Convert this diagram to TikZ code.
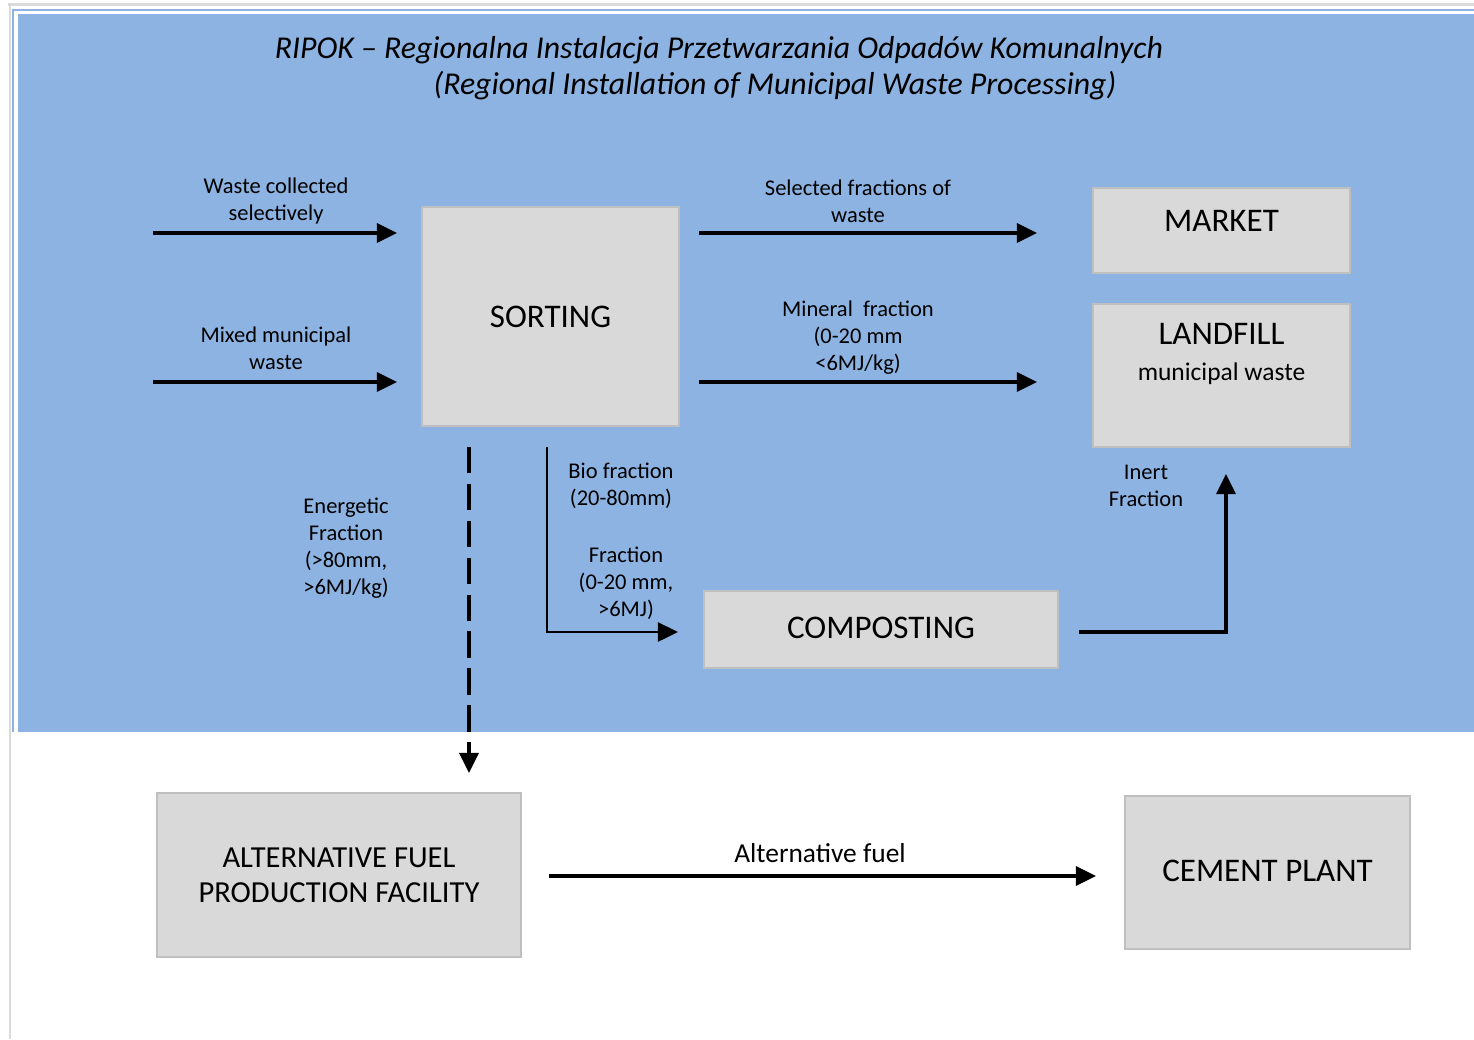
\documentclass[tikz,border=0pt]{standalone}
\usepackage{fontspec}
\setmainfont{Carlito}
\usetikzlibrary{positioning}
\usetikzlibrary{arrows.meta}
\definecolor{ripokblue}{HTML}{8DB3E2}
\definecolor{boxfill}{HTML}{D9D9D9}
\definecolor{boxline}{HTML}{BFBFBF}
\definecolor{pagegray}{HTML}{DADADA}

\tikzset{
  flowbox/.style={draw=boxline, line width=1.2pt, fill=boxfill, inner sep=0pt},
  flowarrow/.style={line width=1.9pt, -{Triangle[length=11.4pt,width=10.8pt]}},
  flowlabel/.style={align=center, inner sep=0pt, font=\fontsize{12.8}{15.4}\selectfont},
  boxtext/.style={align=center, inner sep=0pt, font=\fontsize{18.8}{20}\selectfont},
}

\begin{document}
\begin{tikzpicture}[x=0.02cm, y=-0.02cm]

\useasboundingbox (0,0) rectangle (1474,1039);

% page frame and blue area
\draw[pagegray, line width=1.7pt] (8,4)--(1474,4);
\draw[pagegray, line width=1.7pt] (10,4)--(10,1039);
\draw[ripokblue, line width=0.6pt] (13,732)--(13,10)--(1474,10);
\fill[ripokblue] (18,14) rectangle (1474,732);

\node[inner sep=0pt, font=\fontsize{18.1}{20}\selectfont\itshape] (title) at (719,50)
  {RIPOK – Regionalna Instalacja Przetwarzania Odpadów Komunalnych};
\node[inner sep=0pt, font=\fontsize{18.1}{20}\selectfont\itshape] (subtitle) at (775,86)
  {(Regional Installation of Municipal Waste Processing)};

% boxes
\node[flowbox, minimum width=5.14cm, minimum height=4.38cm, boxtext] (sorting) at (550.5,316.5) {SORTING};
\node[flowbox, minimum width=5.14cm, minimum height=1.7cm,
  label={[boxtext, anchor=center, yshift=-0.68cm]north:MARKET}] (market) at (1221.5,230.5) {};
\node[flowbox, minimum width=5.14cm, minimum height=2.86cm,
  label={[boxtext, anchor=center, yshift=-1.02cm]north:LANDFILL\\{\fontsize{14.5}{20}\selectfont municipal waste}}] (landfill) at (1221.5,375.5) {};
\node[flowbox, minimum width=7.08cm, minimum height=1.54cm, boxtext] (composting) at (881,629.5) {\raisebox{2pt}{COMPOSTING}};
\node[flowbox, minimum width=7.28cm, minimum height=3.28cm, boxtext, font=\fontsize{17.4}{20}\selectfont] (altfuel) at (339,875) {ALTERNATIVE FUEL\\PRODUCTION FACILITY};
\node[flowbox, minimum width=5.7cm, minimum height=3.06cm, boxtext] (cement) at (1267.5,872.5) {\raisebox{2pt}{CEMENT PLANT}};

% free arrow ends
\coordinate (coll-a) at (153,233);
\coordinate (coll-b) at (397,233);
\coordinate (mix-a) at (153,382);
\coordinate (mix-b) at (397,382);
\coordinate (sel-a) at (699,233);
\coordinate (sel-b) at (1037,233);
\coordinate (min-a) at (699,382);
\coordinate (min-b) at (1037,382);
\coordinate (en-a) at (469,447);
\coordinate (en-b) at (469,773);
\coordinate (bio-a) at (547,447);
\coordinate (bio-c) at (547,632);
\coordinate (bio-b) at (678,632);
\coordinate (in-a) at (1079,632);
\coordinate (in-c) at (1226,632);
\coordinate (in-b) at (1226,474);
\coordinate (fuel-a) at (549,876);
\coordinate (fuel-b) at (1096,876);

% arrows
\draw[flowarrow] (coll-a) -- (coll-b);
\draw[flowarrow] (mix-a) -- (mix-b);
\draw[flowarrow] (sel-a) -- (sel-b);
\draw[flowarrow] (min-a) -- (min-b);
\draw[flowarrow, dash pattern=on 15pt off 6pt] (en-a) -- (en-b);
\draw[flowarrow, line width=1.5pt] (bio-a) -- (bio-c) -- (bio-b);
\draw[flowarrow] (in-a) -- (in-c) -- (in-b);
\draw[flowarrow] (fuel-a) -- (fuel-b);

% labels
\node[flowlabel] (coll) at (276,201) {Waste collected\\selectively};
\node[flowlabel] (mix) at (276,348) {Mixed municipal\\waste};
\node[flowlabel] (sel) at (858,201) {Selected fractions of\\waste};
\node[flowlabel] (min) at (858,338) {Mineral\ \ fraction\\(0-20 mm\\<6MJ/kg)};
\node[flowlabel] (energetic) at (346,548) {Energetic\\Fraction\\(>80mm,\\>6MJ/kg)};
\node[flowlabel] (bio) at (621,486) {Bio fraction\\(20-80mm)};
\node[flowlabel] (fine) at (626,583) {Fraction\\(0-20 mm,\\>6MJ)};
\node[flowlabel] (inert) at (1146,486) {Inert\\Fraction};
\node[flowlabel, font=\fontsize{15.6}{18}\selectfont] (fuel) at (820,853) {Alternative fuel};

\end{tikzpicture}
\end{document}
